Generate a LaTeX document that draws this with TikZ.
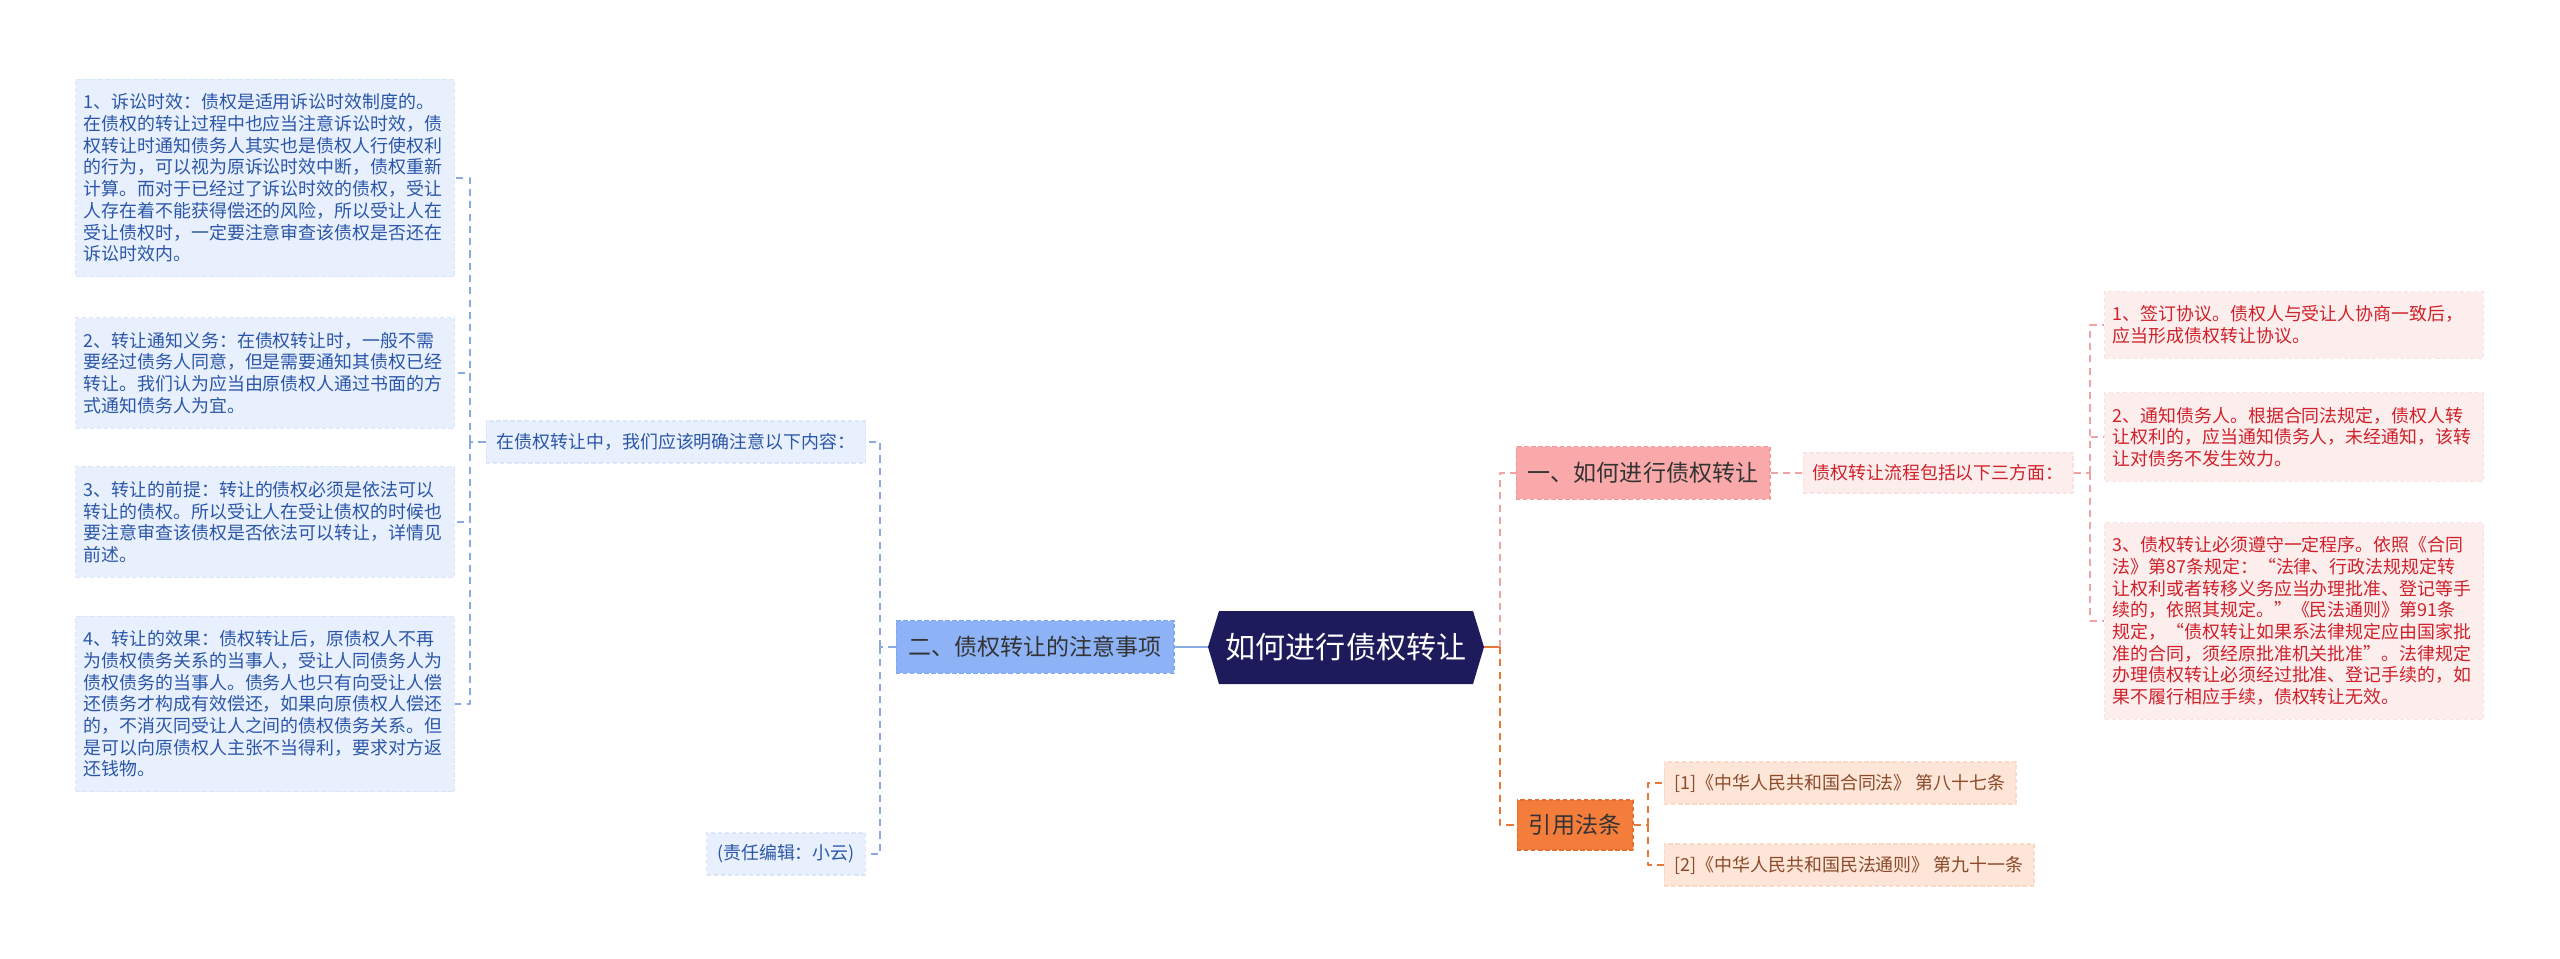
\documentclass[tikz,border=0pt]{standalone}
\usepackage{fontspec}
\setmainfont{Noto Sans CJK SC}
\usepackage{tikz}
\usetikzlibrary{calc}
\definecolor{navy}{HTML}{1D1B5B}
\definecolor{bluefill}{HTML}{E8F0FD}
\definecolor{bluebd}{HTML}{DAE5F9}
\definecolor{bluetext}{HTML}{2B56A8}
\definecolor{blueline}{HTML}{8AAAE4}
\definecolor{midblue}{HTML}{8DB3F6}
\definecolor{midbluebd}{HTML}{7FA7EE}
\definecolor{pinkfill}{HTML}{F9A9A9}
\definecolor{pinkbd}{HTML}{F09A9A}
\definecolor{palered}{HTML}{FDEEEE}
\definecolor{paleredbd}{HTML}{FAE2E2}
\definecolor{redtext}{HTML}{D0212A}
\definecolor{pinkline}{HTML}{F0A3A3}
\definecolor{orangefill}{HTML}{F57D3B}
\definecolor{orangebd}{HTML}{E86C2E}
\definecolor{orangeline}{HTML}{E8783A}
\definecolor{peach}{HTML}{FDE5D7}
\definecolor{peachbd}{HTML}{F9D8C6}
\definecolor{browntext}{HTML}{8B4A2A}
\definecolor{darktext}{HTML}{333333}
\newcommand{\fsmall}{\fontsize{10.2pt}{12.35pt}\selectfont}
\newcommand{\fmid}{\fontsize{13.1pt}{15pt}\selectfont}
\newcommand{\fbig}{\fontsize{17.1pt}{20pt}\selectfont}
\tikzset{
  box/.style={draw,line width=0.6pt,dash pattern=on 2.5pt off 1.5pt},
  leafbox/.style={box,draw=bluebd,fill=bluefill,text=bluetext,font=\fsmall,align=left,text width=7.25cm,inner xsep=0.16cm,inner ysep=0.29cm},
  bluenote/.style={box,draw=bluebd,fill=bluefill,text=bluetext,font=\fsmall,minimum height=0.84cm,inner sep=0pt},
  redbox/.style={box,draw=paleredbd,fill=palered,text=redtext,font=\fsmall,align=left,text width=7.25cm,inner xsep=0.16cm,inner ysep=0.28cm},
  refbox/.style={box,draw=peachbd,fill=peach,text=browntext,font=\fsmall,minimum height=0.84cm,inner sep=0pt},
  topic/.style={box,font=\fmid,text=darktext,minimum height=1.06cm,inner sep=0pt},
  bline/.style={draw=blueline,line width=1pt,dash pattern=on 4pt off 3pt},
  pline/.style={draw=pinkline,line width=1pt,dash pattern=on 4pt off 3pt},
  oline/.style={draw=orangeline,line width=1.6pt,dash pattern=on 4pt off 3pt}
}

\begin{document}
\begin{tikzpicture}[x=0.02cm,y=-0.02cm,line join=round]
\useasboundingbox (0,0) rectangle (2560,959);
% --- root
\fill[navy] (1208,647) -- (1219,611) -- (1473,611) -- (1484,647) -- (1473,684) -- (1219,684) -- cycle;
\node[font=\fbig,text=white,minimum width=5.52cm,minimum height=1.46cm,inner sep=0pt] (root) at (1346,647) {如何进行债权转让};
% --- left branch
\node[topic,draw=midbluebd,fill=midblue,minimum width=5.56cm] (care) at (1035,647) {二、债权转让的注意事项};
\node[bluenote,minimum width=7.6cm] (intro) at (676,442) {在债权转让中，我们应该明确注意以下内容：};
\node[bluenote,minimum width=3.18cm] (editor) at (786,854) {(责任编辑：小云)};
\node[leafbox] (limit) at (265,178) {1、诉讼时效：债权是适用诉讼时效制度的。\\在债权的转让过程中也应当注意诉讼时效，债\\权转让时通知债务人其实也是债权人行使权利\\的行为，可以视为原诉讼时效中断，债权重新\\计算。而对于已经过了诉讼时效的债权，受让\\人存在着不能获得偿还的风险，所以受让人在\\受让债权时，一定要注意审查该债权是否还在\\诉讼时效内。};
\node[leafbox] (notice) at (265,373) {2、转让通知义务：在债权转让时，一般不需\\要经过债务人同意，但是需要通知其债权已经\\转让。我们认为应当由原债权人通过书面的方\\式通知债务人为宜。};
\node[leafbox] (premise) at (265,522) {3、转让的前提：转让的债权必须是依法可以\\转让的债权。所以受让人在受让债权的时候也\\要注意审查该债权是否依法可以转让，详情见\\前述。};
\node[leafbox] (effect) at (265,704) {4、转让的效果：债权转让后，原债权人不再\\为债权债务关系的当事人，受让人同债务人为\\债权债务的当事人。债务人也只有向受让人偿\\还债务才构成有效偿还，如果向原债权人偿还\\的，不消灭同受让人之间的债权债务关系。但\\是可以向原债权人主张不当得利，要求对方返\\还钱物。};
\coordinate (lj) at (880,647);
\coordinate (ljj) at (470,442);
\draw[draw=blueline,line width=1pt] (root.west) -- (care.east);
\draw[bline] (care.west) -- (lj) (lj) |- (intro.east) (lj) |- (editor.east);
\draw[bline] (intro.west) -- (ljj) (ljj) |- (limit.east) (ljj) |- (notice.east)
  (ljj) |- (premise.east) (ljj) |- (effect.east);
% --- right branch
\node[topic,draw=pinkbd,fill=pinkfill,minimum width=5.08cm] (how) at (1643,473) {一、如何进行债权转让};
\node[box,draw=paleredbd,fill=palered,text=redtext,font=\fsmall,minimum width=5.4cm,minimum height=0.8cm,inner sep=0pt] (flow) at (1938,473) {债权转让流程包括以下三方面：};
\node[redbox] (sign) at (2294,325) {1、签订协议。债权人与受让人协商一致后，\\应当形成债权转让协议。};
\node[redbox] (inform) at (2294,437) {2、通知债务人。根据合同法规定，债权人转\\让权利的，应当通知债务人，未经通知，该转\\让对债务不发生效力。};
\node[redbox] (proc) at (2294,621) {3、债权转让必须遵守一定程序。依照《合同\\法》第87条规定：“法律、行政法规规定转\\让权利或者转移义务应当办理批准、登记等手\\续的，依照其规定。”《民法通则》第91条\\规定，“债权转让如果系法律规定应由国家批\\准的合同，须经原批准机关批准”。法律规定\\办理债权转让必须经过批准、登记手续的，如\\果不履行相应手续，债权转让无效。};
\node[topic,draw=orangebd,fill=orangefill,minimum width=2.32cm,minimum height=1cm] (law) at (1575,825) {引用法条};
\node[refbox,minimum width=7.04cm] (refa) at (1840,783) {[1]《中华人民共和国合同法》 第八十七条};
\node[refbox,minimum width=7.4cm] (refb) at (1849,865) {[2]《中华人民共和国民法通则》 第九十一条};
\coordinate (rj) at (1500,647);
\coordinate (fj) at (2090,473);
\coordinate (qj) at (1648,825);
\draw[draw=orangeline,line width=1.6pt] (root.east) -- (rj);
\draw[pline] (rj) |- (how.west);
\draw[oline] (rj) |- (law.west);
\draw[pline] (how.east) -- (flow.west);
\draw[pline] (flow.east) -- (fj) (fj) |- (sign.west) (fj) |- (inform.west) (fj) |- (proc.west);
\draw[oline,line width=1pt] (law.east) -- (qj) (qj) |- (refa.west) (qj) |- (refb.west);
\end{tikzpicture}
\end{document}
